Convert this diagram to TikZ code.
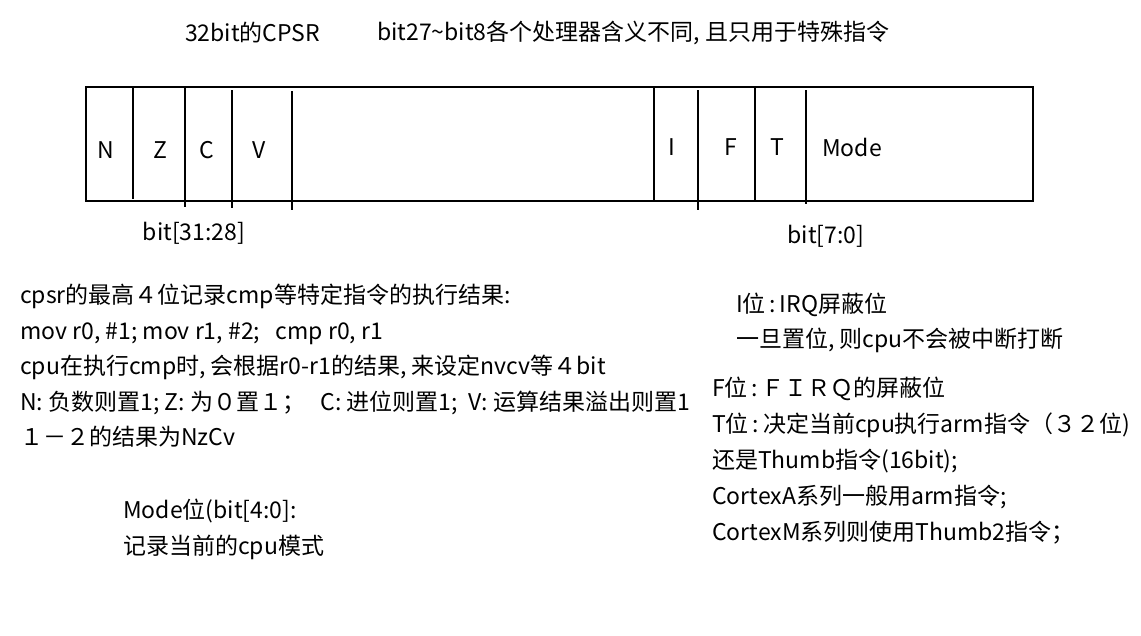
\documentclass[tikz,border=0pt]{standalone}
\usepackage{fontspec}
\setmainfont{Noto Sans CJK SC}
\usetikzlibrary{positioning}

\begin{document}
\begin{tikzpicture}[
  x=1pt, y=-1pt,
  every node/.style={font=\fontsize{23}{35.5}\selectfont, inner sep=0pt},
  reg/.style={line width=2pt},
  sep/.style={line width=2pt},
  note/.style={anchor=north west, align=left},
]
  \useasboundingbox (0,0) rectangle (1141,635);
  % titles
  \node[anchor=west] (title) at (185,33) {32bit的CPSR};
  \node[anchor=west] (resv)  at (377,33) {bit27\textasciitilde bit8各个处理器含义不同, 且只用于特殊指令};
  % CPSR register box
  \draw[reg] (86,87) rectangle (1033,201);
  \draw[sep] (133,88) -- (133,199);
  \draw[sep] (185,88) -- (185,207);
  \draw[sep] (232,90) -- (232,208);
  \draw[sep] (292,91) -- (292,210);
  \draw[sep] (654,88) -- (654,200);
  \draw[sep] (698,90) -- (698,210);
  \draw[sep] (755,88) -- (755,200);
  \draw[sep] (806,90) -- (806,204);
  % bit names
  \node (n) at (106,150) {N};
  \node (z) at (160,150) {Z};
  \node (c) at (207,150) {C};
  \node (v) at (259,150) {V};
  \node (i) at (672,147) {I};
  \node (f) at (731,147) {F};
  \node (t) at (777,147) {T};
  \node[anchor=west] (mode) at (822,147) {Mode};
  % bit ranges
  \node (hi) at (194,233) {bit[31:28]};
  \node (lo) at (826,236) {bit[7:0]};
  % condition flags note
  \node[note] (flags) at (20,284) {cpsr的最高４位记录cmp等特定指令的执行结果:\\
    mov r0, \#1; mov r1, \#2;\ \ \ cmp r0, r1\\
    cpu在执行cmp时, 会根据r0-r1的结果, 来设定nvcv等４bit\\
    N: 负数则置1; Z: 为０置１；\ \ \ C: 进位则置1;\ \ V: 运算结果溢出则置1\\
    １－２的结果为NzCv};
  % mode note
  \node[note, font=\fontsize{23}{36}\selectfont] (modenote) at (123,499) {Mode位(bit[4:0]:\\
    记录当前的cpu模式};
  % I bit note
  \node[note, font=\fontsize{23}{35}\selectfont] (inote) at (736,293) {I位\,:\,IRQ屏蔽位\\
    一旦置位, 则cpu不会被中断打断};
  % F and T bit note
  \node[note, font=\fontsize{23}{36}\selectfont] (ftnote) at (712,377) {F位\,:\,ＦＩＲＱ的屏蔽位\\
    T位\,:\,决定当前cpu执行arm指令（３２位)\\
    还是Thumb指令(16bit);\\
    CortexA系列一般用arm指令;\\
    CortexM系列则使用Thumb2指令；};
\end{tikzpicture}
\end{document}
